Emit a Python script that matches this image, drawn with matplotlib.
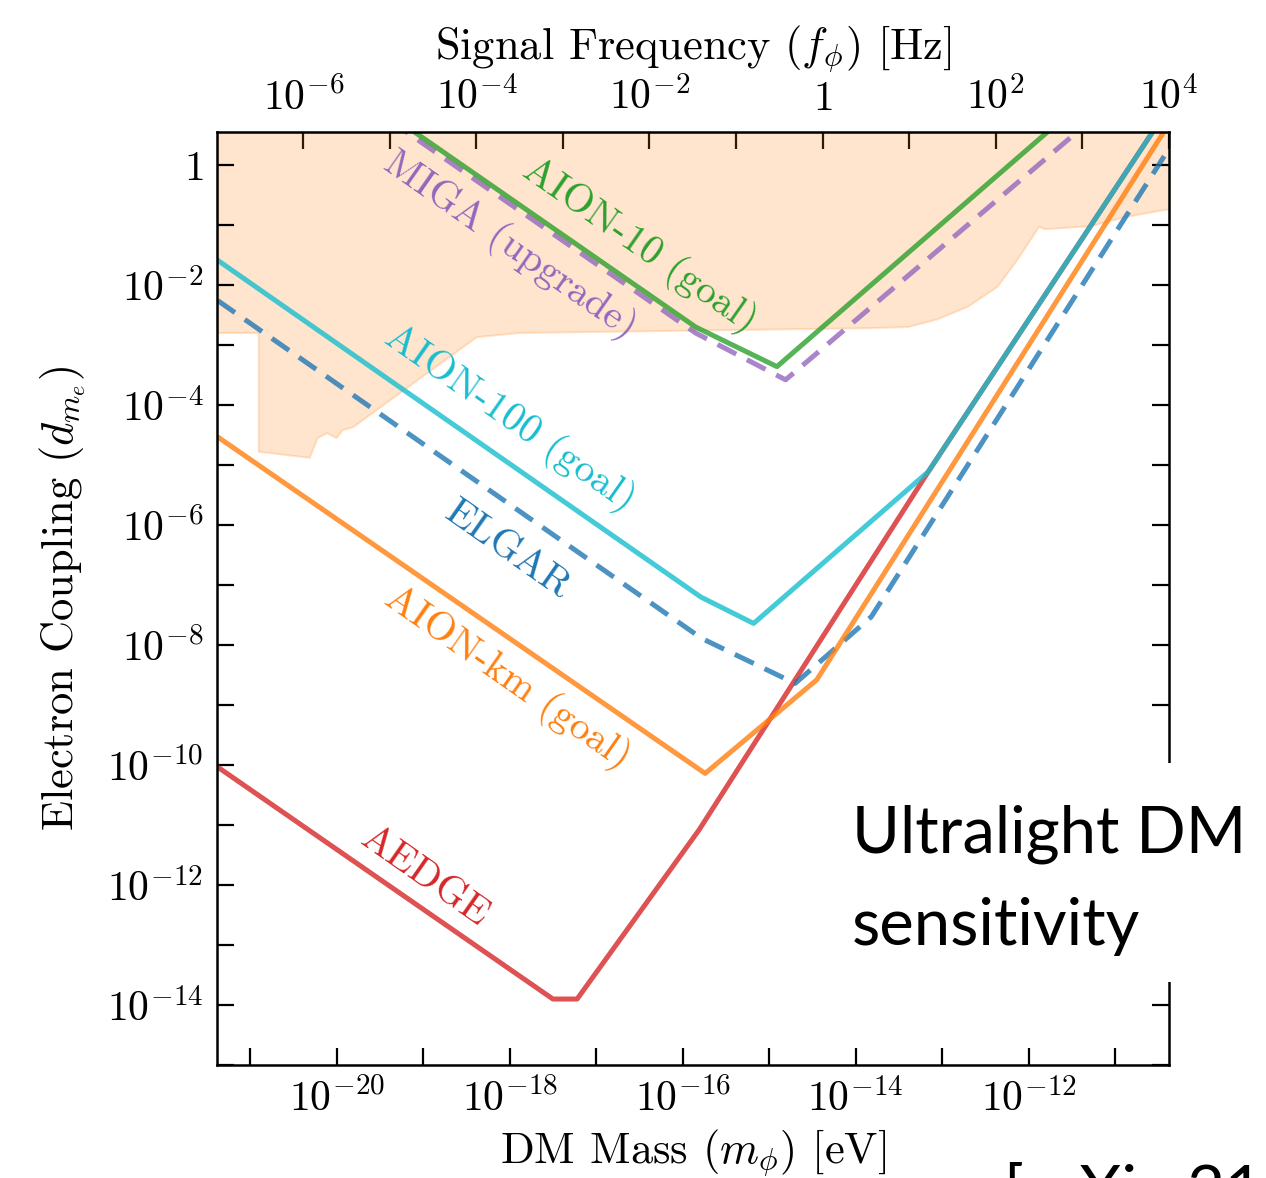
import numpy as np
import matplotlib
matplotlib.use('Agg')
import matplotlib.pyplot as plt
from matplotlib.patches import Rectangle
from matplotlib.ticker import NullFormatter

plt.rcParams['font.family'] = 'cmr10'
plt.rcParams['mathtext.fontset'] = 'cm'
plt.rcParams['axes.unicode_minus'] = False
plt.rcParams['axes.formatter.use_mathtext'] = True

# curves as log10(mass / eV) and log10(coupling)
aedge_m = [-22, -17.50, -17.22, -15.81, -13.16, -10.0]
aedge_d = [-9.41, -13.90, -13.90, -11.08, -5.11, 1.79]

elgar_m = [-22, -15.78, -14.70, -13.82, -10.0]
elgar_d = [-1.63, -7.89, -8.64, -7.53, 1.13]

km_m = [-22, -15.74, -14.45, -10.0]
km_d = [-3.91, -10.14, -8.58, 1.55]

a100_m = [-22, -15.79, -15.18, -13.16, -10.0]
a100_d = [-0.96, -7.20, -7.64, -5.11, 1.79]

miga_m = [-20, -15.85, -14.81, -11.0]
miga_d = [1.36, -2.80, -3.58, 1.09]

a10_m = [-20, -15.85, -14.91, -11.0]
a10_d = [1.45, -2.70, -3.36, 1.53]

# existing bounds (shaded)
excl_m = [-22, -20.90, -20.90, -20.31, -20.22, -20.11, -20.00, -19.93, -19.81,
          -18.38, -17.89, -13.85, -13.39, -13.05, -12.70, -12.36, -12.13,
          -11.98, -11.88, -11.81, -11.28, -10.89, -10.43, -10.0]
excl_d = [-2.80, -2.80, -4.78, -4.88, -4.55, -4.47, -4.55, -4.42, -4.37,
          -2.87, -2.80, -2.72, -2.70, -2.57, -2.36, -2.03, -1.58,
          -1.25, -1.03, -1.07, -1.02, -0.87, -0.75, -0.70]

h_eVs = 4.135667e-15


def m2f(m):
    return m / h_eVs


def f2m(f):
    return f * h_eVs


fig = plt.figure(figsize=(12.66, 11.78), dpi=100)
ax = fig.add_axes([0.1716, 0.0959, 0.7520, 0.7923])

ex_m = 10.0 ** np.array(excl_m)
ax.fill_between(ex_m, 10.0 ** np.array(excl_d), 1e3, facecolor='#ff7f0e', alpha=0.2,
                edgecolor='none', zorder=1)
ax.plot(ex_m, 10.0 ** np.array(excl_d), color='#ff7f0e', alpha=0.2, lw=1.5, zorder=1)

lw = 3.6
ax.plot(10.0 ** np.array(aedge_m), 10.0 ** np.array(aedge_d), color='#d62728', alpha=0.8, lw=lw)
ax.plot(10.0 ** np.array(elgar_m), 10.0 ** np.array(elgar_d), color='#1f77b4', alpha=0.8, lw=lw,
        ls=(0, (4.2, 2.4)))
ax.plot(10.0 ** np.array(km_m), 10.0 ** np.array(km_d), color='#ff7f0e', alpha=0.8, lw=lw)
ax.plot(10.0 ** np.array(a100_m), 10.0 ** np.array(a100_d), color='#17becf', alpha=0.8, lw=lw)
ax.plot(10.0 ** np.array(miga_m), 10.0 ** np.array(miga_d), color='#9467bd', alpha=0.8, lw=lw,
        ls=(0, (4.2, 2.4)))
ax.plot(10.0 ** np.array(a10_m), 10.0 ** np.array(a10_d), color='#2ca02c', alpha=0.8, lw=lw)

ax.set_xscale('log')
ax.set_yscale('log')
ax.set_xlim(10 ** -21.38, 10 ** -10.375)
ax.set_ylim(1e-15, 10 ** 0.555)

xt = [-20, -18, -16, -14, -12]
ax.set_xticks([10.0 ** e for e in xt], [r'$10^{%d}$' % e for e in xt])
ax.set_xticks([10.0 ** e for e in range(-21, -10, 2)], minor=True)
yt = [0, -2, -4, -6, -8, -10, -12, -14]
ax.set_yticks([10.0 ** e for e in yt], [r'$1$' if e == 0 else r'$10^{%d}$' % e for e in yt])
ax.set_yticks([10.0 ** e for e in range(-15, 1, 2)], minor=True)
ax.xaxis.set_minor_formatter(NullFormatter())
ax.yaxis.set_minor_formatter(NullFormatter())
ax.tick_params(which='both', direction='in', length=12, width=1.6, top=False, right=True,
               labelsize=30)
ax.tick_params(axis='x', which='major', pad=10)
ax.tick_params(axis='y', which='major', pad=10)
for s in ax.spines.values():
    s.set_linewidth(1.8)

ax.set_xlabel(r'DM Mass $(m_\phi)$ [eV]', fontsize=32, labelpad=6)
ax.set_ylabel(r'Electron Coupling $(d_{m_e})$', fontsize=32, labelpad=14)

sec = ax.secondary_xaxis('top', functions=(m2f, f2m))
ft = [-6, -4, -2, 0, 2, 4]
sec.set_xticks([10.0 ** e for e in ft], [r'$1$' if e == 0 else r'$10^{%d}$' % e for e in ft])
sec.set_xticks([10.0 ** e for e in range(-7, 4, 2)], minor=True)
sec.xaxis.set_minor_formatter(NullFormatter())
sec.tick_params(which='both', direction='in', length=12, width=1.6, labelsize=30, pad=10)
sec.set_xlabel(r'Signal Frequency $(f_\phi)$ [Hz]', fontsize=32, labelpad=14)

# curve labels
rot = -35
ax.text(0.444, 0.878, 'AION-10 (goal)', color='#2ca02c', fontsize=29, rotation=rot,
        ha='center', va='center', transform=ax.transAxes, rotation_mode='anchor')
ax.text(0.3075, 0.878, 'MIGA (upgrade)', color='#9467bd', fontsize=29, rotation=rot,
        ha='center', va='center', transform=ax.transAxes, rotation_mode='anchor')
ax.text(0.3075, 0.693, 'AION-100 (goal)', color='#17becf', fontsize=29, rotation=rot,
        ha='center', va='center', transform=ax.transAxes, rotation_mode='anchor')
ax.text(0.305, 0.552, 'ELGAR', color='#1f77b4', fontsize=29, rotation=rot,
        ha='center', va='center', transform=ax.transAxes, rotation_mode='anchor')
ax.text(0.305, 0.415, 'AION-km (goal)', color='#ff7f0e', fontsize=29, rotation=rot,
        ha='center', va='center', transform=ax.transAxes, rotation_mode='anchor')
ax.text(0.218, 0.201, 'AEDGE', color='#d62728', fontsize=29, rotation=rot,
        ha='center', va='center', transform=ax.transAxes, rotation_mode='anchor')

# slide overlay
fig.patches.append(Rectangle((0.6635, 0.1664), 0.3365, 0.186, transform=fig.transFigure,
                             facecolor='white', edgecolor='none', zorder=5))
fig.text(852 / 1266, 1 - 852 / 1178, 'Ultralight DM', fontsize=47, family='Lato',
         va='baseline', ha='left', zorder=6)
fig.text(852 / 1266, 1 - 945 / 1178, 'sensitivity', fontsize=47, family='Lato',
         va='baseline', ha='left', zorder=6)
fig.text(1003 / 1266, 1 - 1212 / 1178, '[arXiv:2104.02835]', fontsize=47, family='Lato',
         va='baseline', ha='left', zorder=6)

fig.savefig('out.png', dpi=100)
